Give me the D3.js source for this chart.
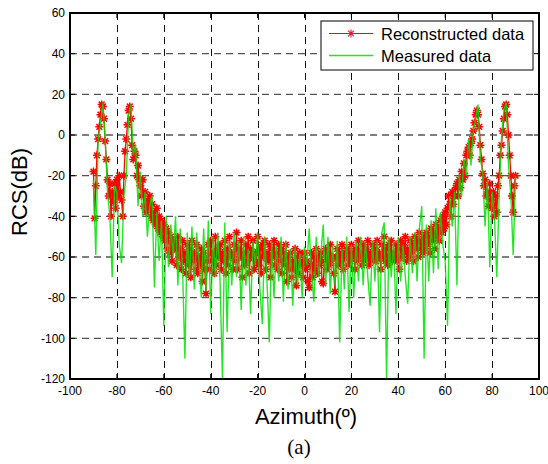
<!DOCTYPE html>
<html><head><meta charset="utf-8">
<script src="https://cdn.jsdelivr.net/npm/d3@7"></script>
<style>body{margin:0;background:#fff;} svg{display:block;font-family:"Liberation Sans",Arial,sans-serif;}</style>
</head><body>
<svg id="chart" width="548" height="464"></svg>
<script>
// ---- data ----
const xTicks = [-100, -80, -60, -40, -20, 0, 20, 40, 60, 80, 100];
const yTicks = [-120, -100, -80, -60, -40, -20, 0, 20, 40, 60];
const seriesNames = ["Reconstructed data", "Measured data"];
const azimuthStart = -90;
const measuredStep = 1;
const reconstructedStep = 0.5;

// Measured data, -90..90 deg, 1 deg step
const measured = [
  -22,-59,-2,5,16,-2,-28,-40,-70,-25,
  -28,-54,-63,-30,-20,10,15,-10,-5,-35,
  -18,-40,-28,-50,-35,-30,-75,-38,-62,-42,
  -94,-40,-65,-44,-60,-40,-74,-46,-66,-110,
  -48,-70,-45,-76,-48,-62,-80,-46,-77,-42,
  -88,-50,-70,-48,-72,-120,-43,-97,-52,-74,
  -48,-70,-52,-86,-50,-74,-56,-88,-52,-64,
  -48,-76,-93,-50,-72,-102,-52,-80,-54,-72,
  -50,-82,-52,-76,-56,-84,-55,-74,-58,-80,
  -55,-64,-46,-68,-82,-50,-70,-58,-44,-74,
  -50,-78,-54,-74,-52,-102,-56,-76,-50,-87,
  -54,-80,-52,-72,-50,-74,-52,-70,-84,-52,
  -72,-52,-97,-48,-43,-120,-50,-70,-52,-88,
  -50,-72,-54,-70,-83,-50,-68,-48,-72,-46,
  -35,-110,-44,-72,-42,-68,-36,-66,-38,-54,
  -62,-94,-30,-45,-28,-74,-20,-30,-12,-20,
  -2,-15,2,8,15,-12,-18,-45,-22,-65,
  -28,-40,-70,-30,-2,12,16,-15,-30,-59,
  -20
];

// Reconstructed data, -90..90 deg, 0.5 deg step
const reconstructed = [
  -18,-41,-25,-10,-2,4,10,15,14,8,-3,-12,-22,-30,-24,-40,-28,-33,-24,-36,
  -22,-30,-20,-28,-32,-40,-20,-8,-2,5,12,14,8,-5,-12,-8,-10,-20,-15,-22,
  -25,-30,-22,-35,-28,-38,-32,-36,-30,-40,-34,-42,-38,-44,-36,-46,-40,-48,-42,-50,
  -44,-52,-46,-56,-48,-58,-50,-62,-52,-56,-54,-64,-50,-60,-56,-66,-52,-62,-58,-68,
  -54,-64,-56,-70,-52,-62,-58,-66,-54,-68,-60,-64,-56,-72,-58,-66,-78,-62,-54,-66,
  -52,-62,-58,-68,-50,-64,-56,-60,-54,-66,-58,-62,-52,-68,-56,-64,-50,-60,-58,-66,
  -54,-62,-48,-66,-56,-60,-52,-70,-58,-64,-54,-62,-50,-68,-56,-60,-52,-66,-58,-62,
  -50,-64,-56,-68,-54,-60,-52,-66,-58,-62,-54,-70,-56,-60,-52,-64,-58,-66,-54,-62,
  -56,-68,-58,-64,-54,-72,-60,-66,-58,-70,-62,-66,-56,-74,-60,-68,-58,-64,-62,-70,
  -58,-66,-62,-72,-75,-64,-58,-70,-60,-66,-56,-68,-60,-64,-58,-72,-73,-62,-56,-66,
  -58,-64,-54,-62,-60,-68,-77,-60,-56,-64,-58,-62,-54,-66,-60,-58,-56,-64,-58,-62,
  -54,-60,-58,-66,-56,-62,-52,-60,-58,-64,-54,-62,-56,-60,-52,-64,-58,-62,-54,-60,
  -56,-62,-52,-60,-58,-66,-54,-60,-50,-62,-56,-64,-54,-60,-52,-62,-58,-60,-54,-62,
  -56,-66,-52,-60,-54,-58,-50,-62,-56,-60,-52,-58,-54,-62,-50,-56,-52,-60,-48,-56,
  -52,-58,-50,-56,-48,-54,-50,-58,-46,-52,-48,-56,-44,-50,-46,-52,-42,-48,-40,-46,
  -38,-44,-36,-30,-34,-40,-28,-34,-30,-26,-24,-30,-22,-26,-18,-22,-14,-20,-10,-8,
  -6,-10,-4,-2,2,6,10,12,10,4,-5,-12,-19,-25,-22,-30,-28,-35,-24,-32,
  -36,-28,-40,-30,-38,-25,-20,-10,-5,2,8,14,15,10,0,-10,-20,-30,-38,-25,
  -20
];

// ---- chart ----
const svg = d3.select("#chart");
const L = 70, R = 539, T = 13, B = 379;
const x = d3.scaleLinear().domain([-100, 100]).range([L, R]);
const y = d3.scaleLinear().domain([-120, 60]).range([B, T]);

svg.append("defs").append("clipPath").attr("id", "clip")
  .append("rect").attr("x", L).attr("y", T).attr("width", R - L).attr("height", B - T);

// grid
const grid = svg.append("g");
grid.selectAll("line.v").data(xTicks.slice(1, -1)).join("line")
  .attr("x1", d => Math.round(x(d)) + 0.5).attr("x2", d => Math.round(x(d)) + 0.5)
  .attr("y1", T).attr("y2", B)
  .attr("stroke", "#111").attr("stroke-width", 1).attr("stroke-dasharray", "7,5");
grid.selectAll("line.h").data(yTicks.slice(1, -1)).join("line")
  .attr("x1", L).attr("x2", R)
  .attr("y1", d => y(d)).attr("y2", d => y(d))
  .attr("stroke", "#555").attr("stroke-width", 1.4).attr("stroke-dasharray", "7,5");

const plot = svg.append("g").attr("clip-path", "url(#clip)");
const recPts = reconstructed.map((v, i) => [azimuthStart + i * reconstructedStep, v]);
const meaPts = measured.map((v, i) => [azimuthStart + i * measuredStep, v]);
const line = d3.line().x(d => x(d[0])).y(d => y(d[1]));
const star = "M-4,0H4M0,-4V4M-2.9,-2.9L2.9,2.9M-2.9,2.9L2.9,-2.9";

plot.append("path").attr("d", line(recPts)).attr("fill", "none")
  .attr("stroke", "#ff0000").attr("stroke-width", 1.3);
plot.append("g").selectAll("path").data(recPts).join("path")
  .attr("transform", d => `translate(${x(d[0])},${y(d[1])})`)
  .attr("d", star).attr("fill", "none").attr("stroke", "#ff0000").attr("stroke-width", 1.5);
plot.append("path").attr("d", line(meaPts)).attr("fill", "none")
  .attr("stroke", "#00e000").attr("stroke-width", 1.4).attr("opacity", 0.85);

// frame & ticks
const axisG = svg.append("g");
axisG.append("rect").attr("x", L).attr("y", T).attr("width", R - L).attr("height", B - T)
  .attr("fill", "none").attr("stroke", "#000").attr("stroke-width", 2);
const tk = 5;
xTicks.forEach(d => {
  axisG.append("line").attr("x1", x(d)).attr("x2", x(d)).attr("y1", B).attr("y2", B - tk).attr("stroke", "#000");
  axisG.append("line").attr("x1", x(d)).attr("x2", x(d)).attr("y1", T).attr("y2", T + tk).attr("stroke", "#000");
});
yTicks.forEach(d => {
  axisG.append("line").attr("x1", L).attr("x2", L + tk).attr("y1", y(d)).attr("y2", y(d)).attr("stroke", "#000");
  axisG.append("line").attr("x1", R).attr("x2", R - tk).attr("y1", y(d)).attr("y2", y(d)).attr("stroke", "#000");
});
axisG.selectAll("text.xt").data(xTicks).join("text")
  .attr("x", d => x(d)).attr("y", 395).attr("text-anchor", "middle")
  .attr("font-size", 12).attr("fill", "#000").text(d => d);
axisG.selectAll("text.yt").data(yTicks).join("text")
  .attr("x", 65).attr("y", d => y(d)).attr("dy", "0.36em").attr("text-anchor", "end")
  .attr("font-size", 12).attr("fill", "#000").text(d => d);

// axis titles
svg.append("text").attr("transform", "translate(27,192) rotate(-90)")
  .attr("text-anchor", "middle").attr("font-size", 22).text("RCS(dB)");
svg.append("text").attr("x", 306).attr("y", 424).attr("text-anchor", "middle")
  .attr("font-size", 22).text("Azimuth(º)");
svg.append("text").attr("x", 299).attr("y", 454).attr("text-anchor", "middle")
  .attr("font-family", "'Liberation Serif','Times New Roman',serif").attr("font-size", 21).text("(a)");

// legend
const lg = svg.append("g");
lg.append("rect").attr("x", 321).attr("y", 21).attr("width", 212).attr("height", 49)
  .attr("fill", "#fff").attr("stroke", "#000").attr("stroke-width", 1);
lg.append("line").attr("x1", 329).attr("x2", 373).attr("y1", 33.5).attr("y2", 33.5)
  .attr("stroke", "#ff0000").attr("stroke-width", 1);
lg.append("path").attr("transform", "translate(351,33.5)").attr("d", star)
  .attr("fill", "none").attr("stroke", "#ff1010").attr("stroke-width", 1.1);
lg.append("line").attr("x1", 329).attr("x2", 373).attr("y1", 55.5).attr("y2", 55.5)
  .attr("stroke", "#00e000").attr("stroke-width", 1.3).attr("opacity", 0.85);
lg.selectAll("text").data(seriesNames).join("text")
  .attr("x", 381).attr("y", (d, i) => i === 0 ? 39.5 : 62)
  .attr("font-size", 16.5).attr("fill", "#000").text(d => d);
</script>
</body></html>
